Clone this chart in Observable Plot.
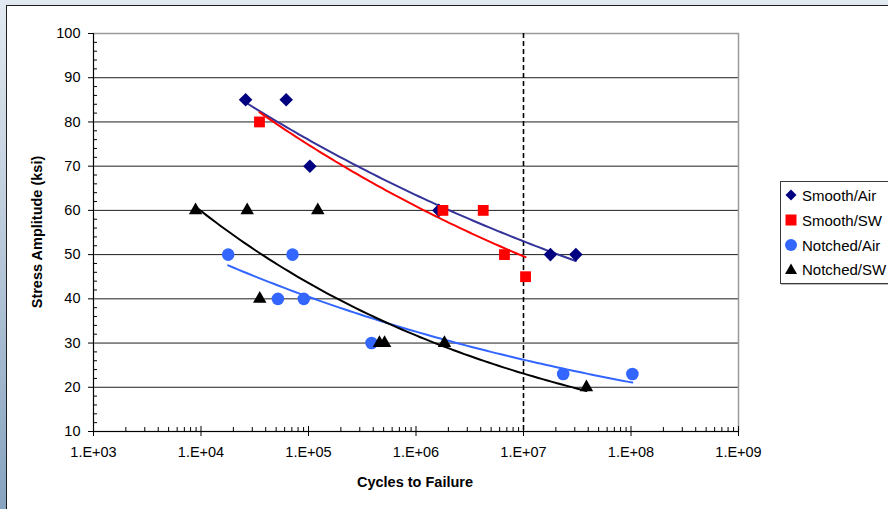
<!DOCTYPE html>
<html><head><meta charset="utf-8">
<script src="https://cdn.jsdelivr.net/npm/d3@7"></script>
<script src="https://cdn.jsdelivr.net/npm/@observablehq/plot@0.6"></script>
<style>
html,body{margin:0;padding:0;}
body{width:888px;height:509px;overflow:hidden;position:relative;font-family:"Liberation Sans",Arial,sans-serif;}
#bg{position:absolute;left:0;top:0;width:888px;height:509px;background:linear-gradient(180deg,#e2e9f0 0%,#bccbdb 45%,#86a3bf 100%);}
#panel{position:absolute;left:6px;top:5px;width:900px;height:520px;background:#fff;border-left:1.5px solid #1e1e1e;border-top:1.5px solid #1e1e1e;}
#chart{position:absolute;left:0;top:0;}
#ytitle{position:absolute;left:37px;top:232px;transform:translate(-50%,-50%) rotate(-90deg);font-weight:bold;font-size:14.5px;white-space:nowrap;color:#000;}
#xtitle{position:absolute;left:415px;top:482px;transform:translate(-50%,-50%);font-weight:bold;font-size:14.5px;white-space:nowrap;color:#000;}
#legend{position:absolute;left:780px;top:181px;width:130px;height:101px;border:1px solid #3a3a3a;background:#fff;box-shadow:1px 1px 0 #bbb;}
.lrow{position:absolute;left:0;height:20px;display:flex;align-items:center;font-size:15px;white-space:nowrap;}
.lrow svg{width:14px;height:14px;margin-left:3px;margin-right:4px;}
</style></head>
<body>
<div id="bg"></div>
<div id="panel"></div>
<div id="chart"></div>
<div id="ytitle">Stress Amplitude (ksi)</div>
<div id="xtitle">Cycles to Failure</div>
<div id="legend"></div>
<script>
// ---- data (cycles to failure, stress amplitude ksi) ----
const smoothAirN   = [2.6e4, 6.2e4, 1.03e5, 1.63e6, 1.78e7, 3.07e7];
const smoothAirS   = [85, 85, 70, 60, 50, 50];
const smoothSwN    = [3.5e4, 1.78e6, 4.22e6, 6.65e6, 1.045e7];
const smoothSwS    = [80, 60, 60, 50, 45];
const notchedAirN  = [1.79e4, 7.1e4, 5.19e4, 9.04e4, 3.86e5, 2.34e7, 1.03e8];
const notchedAirS  = [50, 50, 40, 40, 30, 23, 23];
const notchedSwN   = [8.9e3, 2.69e4, 1.22e5, 3.52e4, 4.57e5, 5.1e5, 1.84e6, 3.85e7];
const notchedSwS   = [60, 60, 60, 40, 30, 30, 30, 20];
const seriesNames  = ["Smooth/Air", "Smooth/SW", "Notched/Air", "Notched/SW"];
const xTicks       = [1e3, 1e4, 1e5, 1e6, 1e7, 1e8, 1e9];
const xTickLabels  = ["1.E+03", "1.E+04", "1.E+05", "1.E+06", "1.E+07", "1.E+08", "1.E+09"];
const yTicks       = [10, 20, 30, 40, 50, 60, 70, 80, 90, 100];
const runoutCycles = [1e7];

// ---- styles ----
const styles = {
  "Smooth/Air":  {fill: "#000080", trend: "#333399", symbol: "diamond2", r: 6.1},
  "Smooth/SW":   {fill: "#ff0000", trend: "#ff0000", symbol: "square", r: 6.1},
  "Notched/Air": {fill: "#3366ff", trend: "#3366ff", symbol: "circle", r: 6.3},
  "Notched/SW":  {fill: "#000000", trend: "#000000", symbol: "triangle", r: 5.0}
};
const raw = {
  "Smooth/Air": [smoothAirN, smoothAirS],
  "Smooth/SW": [smoothSwN, smoothSwS],
  "Notched/Air": [notchedAirN, notchedAirS],
  "Notched/SW": [notchedSwN, notchedSwS]
};
const points = seriesNames.flatMap(s => raw[s][0].map((n, i) => ({series: s, n, s: raw[s][1][i]})));

// power-law trendline (least squares in log-log, as a spreadsheet power trendline)
function powerTrend(name) {
  const [xs, ys] = raw[name];
  const lx = xs.map(Math.log), ly = ys.map(Math.log);
  const mx = d3.mean(lx), my = d3.mean(ly);
  const b = d3.sum(lx, (v, i) => (v - mx) * (ly[i] - my)) / d3.sum(lx, v => (v - mx) ** 2);
  const a = Math.exp(my - b * mx);
  const [lo, hi] = d3.extent(xs);
  return d3.range(0, 81).map(i => {
    const n = lo * Math.pow(hi / lo, i / 80);
    return {series: name, n, s: a * Math.pow(n, b)};
  });
}
const trends = seriesNames.flatMap(powerTrend);

const minorX = d3.range(3, 9).flatMap(e => d3.range(2, 10).map(m => m * 10 ** e));
const minorY = d3.range(12, 100, 2).filter(v => v % 10 !== 0);
const fmtX = d => xTickLabels[xTicks.indexOf(d)] ?? "";

const chart = Plot.plot({
  width: 888, height: 509,
  marginLeft: 93, marginRight: 150, marginTop: 33, marginBottom: 78,
  style: {background: "transparent", fontFamily: "Liberation Sans, Arial, sans-serif", color: "#000"},
  x: {type: "log", domain: [1e3, 1e9], axis: null},
  y: {domain: [10, 100], axis: null},
  marks: [
    Plot.ruleY(yTicks.filter(v => v > 10 && v < 100), {stroke: "#1e1e1e", strokeWidth: 1}),
    Plot.frame({stroke: "#9a9a9a", strokeWidth: 1.5}),
    Plot.ruleX([1e3], {stroke: "#000", strokeWidth: 1}),
    Plot.ruleY([10], {stroke: "#000", strokeWidth: 1}),
    Plot.ruleX(runoutCycles, {stroke: "#000", strokeWidth: 1.6, strokeDasharray: "5,3"}),
    ...seriesNames.map(s => Plot.line(trends.filter(d => d.series === s), {
      x: "n", y: "s", stroke: styles[s].trend, strokeWidth: 2, curve: "linear"
    })),
    ...seriesNames.map(s => Plot.dot(points.filter(d => d.series === s), {
      x: "n", y: "s", symbol: () => styles[s].symbol, fill: styles[s].fill, stroke: "none", r: styles[s].r
    })),
    // y axis: labels and outer ticks
    Plot.axisY(yTicks, {anchor: "left", tickSize: 5, tickPadding: 8, fontSize: 14.5, label: null, stroke: "#000"}),
    // y minor ticks (inside)
    Plot.axisY(minorY, {anchor: "left", tickSize: 4, dx: 4, tickFormat: () => "", label: null, stroke: "#000"}),
    // x axis: labels and lower ticks
    Plot.axisX(xTicks, {anchor: "bottom", tickSize: 5, tickPadding: 10, fontSize: 14.5, tickFormat: fmtX, label: null, stroke: "#000"}),
    // x major ticks upward
    Plot.axisX(xTicks, {anchor: "bottom", tickSize: 5, dy: -5, tickFormat: () => "", label: null, stroke: "#000"}),
    // x minor ticks (inside)
    Plot.axisX(minorX, {anchor: "bottom", tickSize: 4, dy: -4, tickFormat: () => "", label: null, stroke: "#000"})
  ]
});
document.getElementById("chart").appendChild(chart);

// ---- legend ----
const shapes = {
  "Smooth/Air": '<polygon points="7,1.5 12.5,7 7,12.5 1.5,7" fill="#000080"/>',
  "Smooth/SW": '<rect x="1.5" y="1.5" width="11" height="11" fill="#ff0000"/>',
  "Notched/Air": '<circle cx="7" cy="7" r="6" fill="#3366ff"/>',
  "Notched/SW": '<polygon points="7,1.5 13,12 1,12" fill="#000"/>'
};
const legend = document.getElementById("legend");
const rowCenters = [13, 38, 63, 87];
seriesNames.forEach((s, i) => {
  const row = document.createElement("div");
  row.className = "lrow";
  row.style.top = (rowCenters[i] - 10) + "px";
  row.innerHTML = `<svg viewBox="0 0 14 14">${shapes[s]}</svg><span>${s}</span>`;
  legend.appendChild(row);
});
</script>
</body></html>
